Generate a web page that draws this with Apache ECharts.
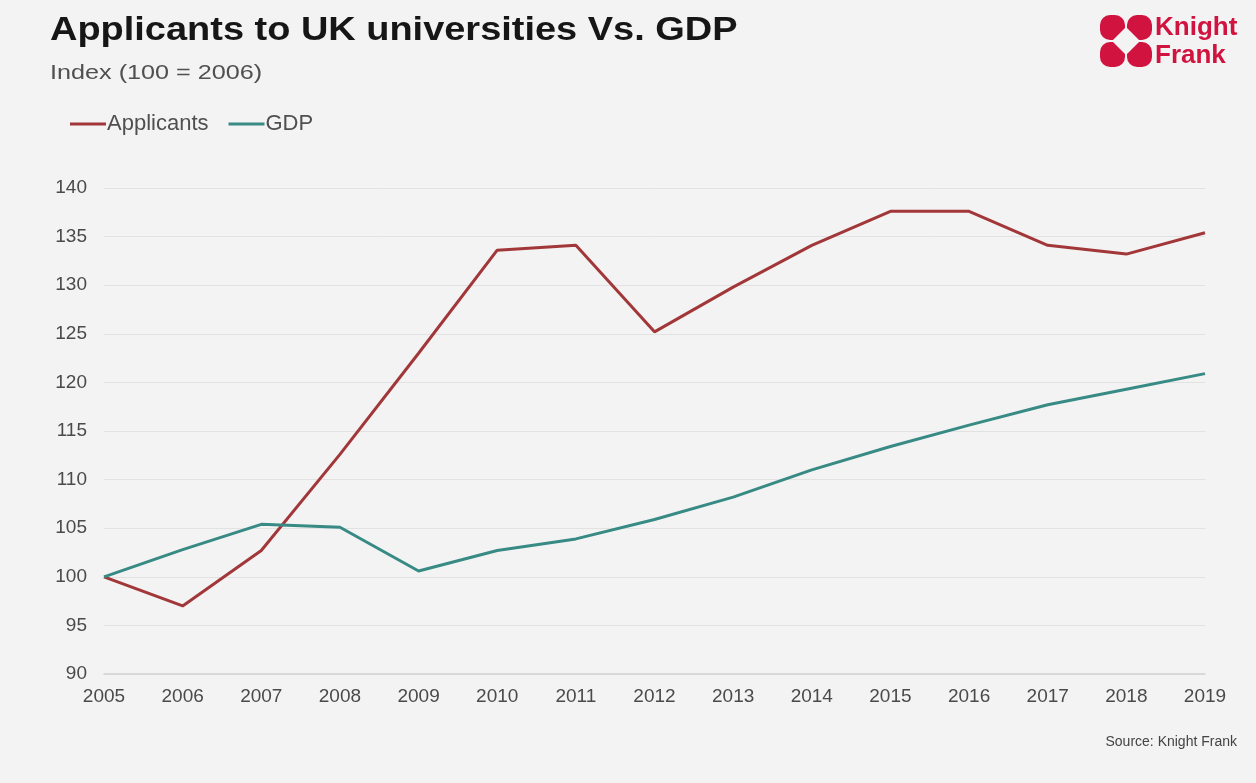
<!DOCTYPE html>
<html>
<head>
<meta charset="utf-8">
<script src="https://cdn.jsdelivr.net/npm/echarts@6/dist/echarts.min.js"></script>
<style>
  html, body { margin: 0; padding: 0; background: #f3f3f3; }
  #chart { width: 1256px; height: 783px; }
</style>
</head>
<body>
<div id="chart"></div>
<script>
// Years on the x axis
const years = ['2005', '2006', '2007', '2008', '2009', '2010', '2011', '2012',
               '2013', '2014', '2015', '2016', '2017', '2018', '2019'];
// Index values, 100 = base year
const applicants = [100, 97.0, 102.7, 112.6, 123.0, 133.6, 134.1, 125.2,
                    129.8, 134.1, 137.6, 137.6, 134.1, 133.2, 135.4];
const gdp = [100, 102.8, 105.4, 105.1, 100.6, 102.7, 103.9, 105.9,
             108.2, 111.0, 113.4, 115.6, 117.7, 119.3, 120.9];
// Axis range
const yMin = 90, yMax = 140, yStep = 5;

const titleText = 'Applicants to UK universities Vs. GDP';
const subtitleText = 'Index (100 = 2006)';
const sourceText = 'Source: Knight Frank';

const FONT = '"Liberation Sans", Arial, sans-serif';
const RED = '#a2373a';
const TEAL = '#388a84';
const BRAND = '#d0143f';
const BG = '#f3f3f3';

const chart = echarts.init(document.getElementById('chart'), null, { renderer: 'canvas' });

// Brand mark: four rounded quadrants with a diamond cut-out in the middle
const mx = 1100, my = 15, ms = 52, q = 25;
const logo = [
  { type: 'rect', shape: { x: mx, y: my, width: q, height: q, r: [10, 10, 2, 10] }, style: { fill: BRAND } },
  { type: 'rect', shape: { x: mx + ms - q, y: my, width: q, height: q, r: [10, 10, 10, 2] }, style: { fill: BRAND } },
  { type: 'rect', shape: { x: mx, y: my + ms - q, width: q, height: q, r: [10, 2, 10, 10] }, style: { fill: BRAND } },
  { type: 'rect', shape: { x: mx + ms - q, y: my + ms - q, width: q, height: q, r: [2, 10, 10, 10] }, style: { fill: BRAND } },
  { type: 'polygon', shape: { points: [[mx + ms / 2, my + 12], [mx + ms - 12, my + ms / 2], [mx + ms / 2, my + ms - 12], [mx + 12, my + ms / 2]] }, style: { fill: BG } },
  { type: 'text', x: 1155, y: 28, style: { text: 'Knight', font: 'bold 26px ' + FONT, fill: BRAND, verticalAlign: 'middle' } },
  { type: 'text', x: 1155, y: 56, style: { text: 'Frank', font: 'bold 26px ' + FONT, fill: BRAND, verticalAlign: 'middle' } }
];

// Heading block: title and subtitle, drawn slightly wide
const heading = [
  { type: 'text', x: 50, y: 31, scaleX: 1.15, scaleY: 1,
    style: { text: titleText, font: 'bold 33px ' + FONT, fill: '#161616', verticalAlign: 'middle' } },
  { type: 'text', x: 50, y: 73, scaleX: 1.2, scaleY: 1,
    style: { text: subtitleText, font: '21px ' + FONT, fill: '#505050', verticalAlign: 'middle' } }
];

const option = {
  backgroundColor: BG,
  animation: false,
  textStyle: { fontFamily: FONT },
  legend: {
    left: 70, top: 113, padding: 0,
    itemWidth: 36, itemHeight: 3, itemGap: 20,
    icon: 'rect',
    textStyle: { fontSize: 22, color: '#4f4f4f', fontFamily: FONT, padding: [0, 0, 0, -4] },
    data: ['Applicants', 'GDP']
  },
  grid: { left: 104, right: 51, top: 188, bottom: 109, containLabel: false },
  xAxis: {
    type: 'category',
    data: years,
    boundaryGap: false,
    axisLine: { show: true, lineStyle: { color: '#d2d2d2', width: 1.5 } },
    axisTick: { show: false },
    axisLabel: { fontSize: 19, color: '#4a4a4a', margin: 13, fontFamily: FONT },
    splitLine: { show: false }
  },
  yAxis: {
    type: 'value',
    min: yMin, max: yMax, interval: yStep,
    axisLine: { show: false },
    axisTick: { show: false },
    axisLabel: { fontSize: 19, color: '#4a4a4a', margin: 17, fontFamily: FONT },
    splitLine: { show: true, lineStyle: { color: '#e2e2e2', width: 1 } }
  },
  series: [
    { name: 'Applicants', type: 'line', data: applicants, showSymbol: false, symbol: 'none',
      lineStyle: { color: RED, width: 3 }, itemStyle: { color: RED } },
    { name: 'GDP', type: 'line', data: gdp, showSymbol: false, symbol: 'none',
      lineStyle: { color: TEAL, width: 3 }, itemStyle: { color: TEAL } }
  ],
  graphic: heading.concat(logo).concat([
    { type: 'text', right: 19, top: 735, style: { text: sourceText, font: '14px ' + FONT, fill: '#444444' } }
  ])
};

chart.setOption(option);
</script>
</body>
</html>
